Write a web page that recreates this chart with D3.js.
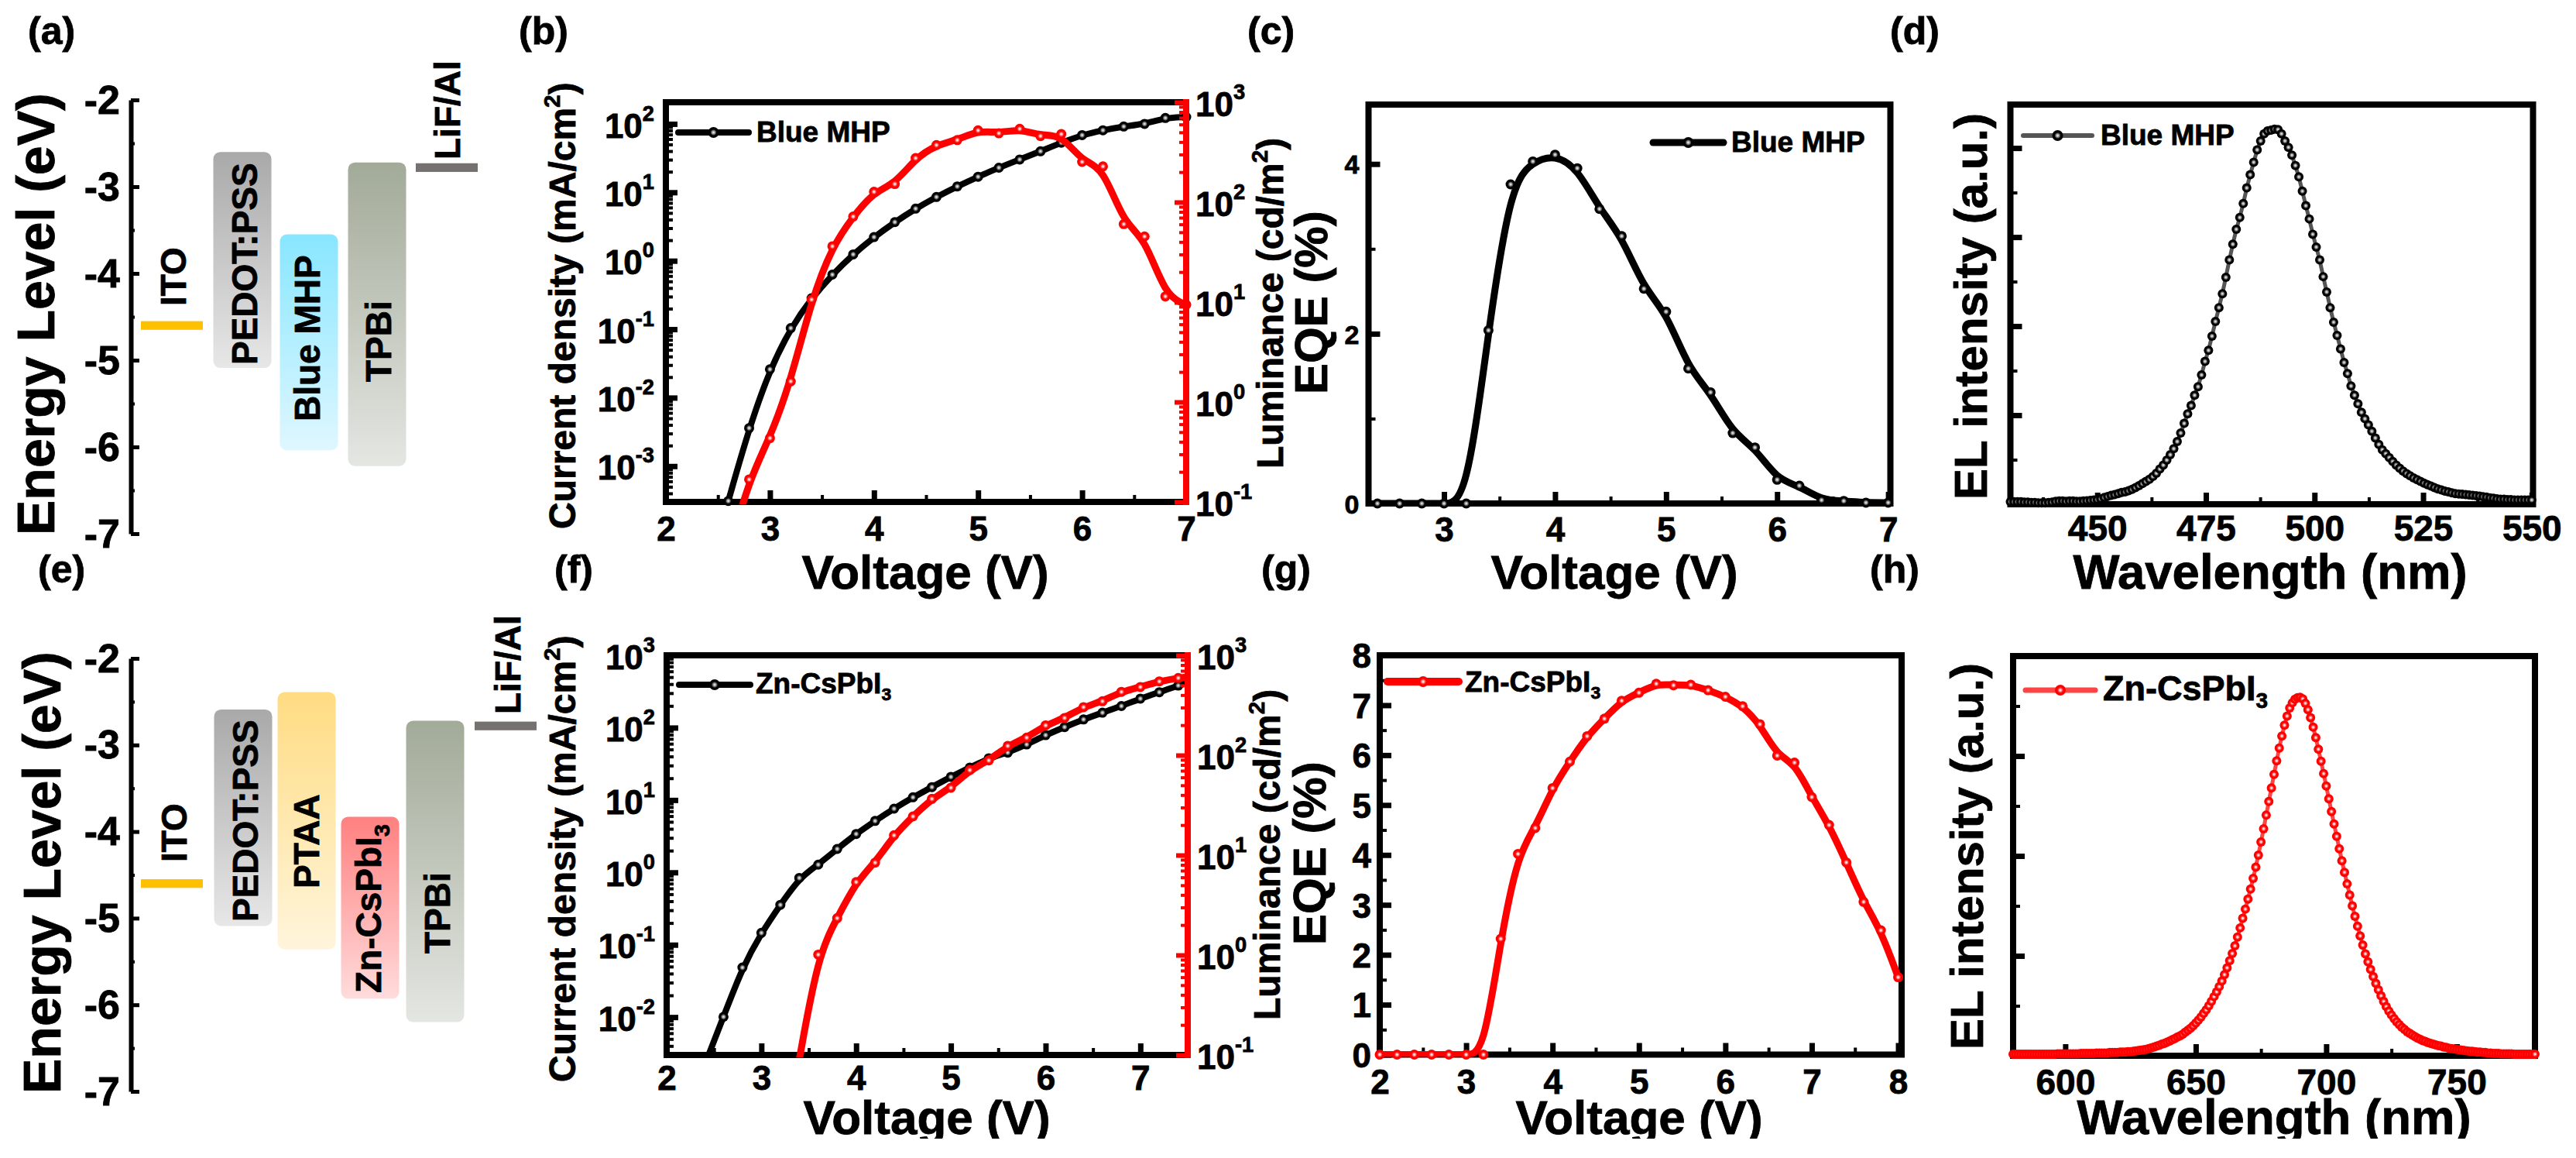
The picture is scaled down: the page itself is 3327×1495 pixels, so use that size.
<!DOCTYPE html>
<html lang="en">
<head>
<meta charset="UTF-8">
<title>LED device characteristics</title>
<script src="https://d3js.org/d3.v7.min.js"></script>
<style>
    body { margin: 0; background: #fff; }
    text { font-family: "Liberation Sans", Arial, sans-serif; font-weight: bold; fill: #000; stroke: #000; stroke-width: 0.8px; }
    .tick text { font-family: "Liberation Sans", Arial, sans-serif; font-weight: bold; }
</style>
</head>
<body>
<div id="chart"></div>
<script>
// energy levels (eV): name, top, bottom
const bandsBlue = [
    ["ITO", -4.55, -4.65], ["PEDOT:PSS", -2.6, -5.09], ["Blue MHP", -3.55, -6.04],
    ["TPBi", -2.72, -6.22], ["LiF/Al", -2.73, -2.83]
];
const bandsRed = [
    ["ITO", -4.55, -4.65], ["PEDOT:PSS", -2.59, -5.09], ["PTAA", -2.39, -5.36],
    ["Zn-CsPbI3", -3.83, -5.93], ["TPBi", -2.72, -6.2], ["LiF/Al", -2.73, -2.83]
];
const energyTicks = [-2, -3, -4, -5, -6, -7];
const energyMinor = [-2.5, -3.5, -4.5, -5.5, -6.5];

// panel b
const voltsB = [2.6, 2.8, 3, 3.2, 3.4, 3.6, 3.8, 4, 4.2, 4.4, 4.6, 4.8, 5, 5.2, 5.4, 5.6, 5.8, 6, 6.2, 6.4, 6.6, 6.8, 7];
const currentB = [3.1e-4, 3.6e-3, 0.026, 0.104, 0.284, 0.628, 1.24, 2.22, 3.67, 5.78, 8.55, 12.2, 16.9, 22.9, 30.2, 39.8, 53.2, 68.5, 80.7, 91.6, 100, 122, 126];
const luminanceB = [0.03, 0.168, 0.435, 1.61, 10.6, 36.2, 71.8, 127, 152, 276, 373, 418, 523, 489, 542, 459, 480, 253, 228, 60.3, 45.4, 11.4, 9.42];

// panel c
const voltsC = [2.4, 2.6, 2.8, 3, 3.2, 3.4, 3.6, 3.8, 4, 4.2, 4.4, 4.6, 4.8, 5, 5.2, 5.4, 5.6, 5.8, 6, 6.2, 6.4, 6.6, 6.8, 7];
const eqeC = [0, 0, 0, 0, 0, 2.04, 3.76, 4.03, 4.11, 3.95, 3.47, 3.15, 2.53, 2.26, 1.59, 1.31, 0.83, 0.66, 0.28, 0.21, 0.04, 0.03, 0.01, 0.01];

// panel d
const wavesD = [430, 430.8, 431.6, 432.4, 433.2, 434, 434.8, 435.6, 436.4, 437.2, 438, 438.8, 439.6, 440.4, 441.2, 442, 442.8, 443.6, 444.4, 445.2, 446, 446.8, 447.6, 448.4, 449.2,
    450, 450.8, 451.6, 452.4, 453.2, 454, 454.8, 455.6, 456.4, 457.2, 458, 458.8, 459.6, 460.4, 461.2, 462, 462.8, 463.6, 464.4, 465.2, 466, 466.8, 467.6, 468.4, 469.2,
    470, 470.8, 471.6, 472.4, 473.2, 474, 474.8, 475.6, 476.4, 477.2, 478, 478.8, 479.6, 480.4, 481.2, 482, 482.8, 483.6, 484.4, 485.2, 486, 486.8, 487.6, 488.4, 489.2,
    490, 490.8, 491.6, 492.4, 493.2, 494, 494.8, 495.6, 496.4, 497.2, 498, 498.8, 499.6, 500.4, 501.2, 502, 502.8, 503.6, 504.4, 505.2, 506, 506.8, 507.6, 508.4, 509.2,
    510, 510.8, 511.6, 512.4, 513.2, 514, 514.8, 515.6, 516.4, 517.2, 518, 518.8, 519.6, 520.4, 521.2, 522, 522.8, 523.6, 524.4, 525.2, 526, 526.8, 527.6, 528.4, 529.2,
    530, 530.8, 531.6, 532.4, 533.2, 534, 534.8, 535.6, 536.4, 537.2, 538, 538.8, 539.6, 540.4, 541.2, 542, 542.8, 543.6, 544.4, 545.2, 546, 546.8, 547.6, 548.4, 549.2, 550];
const elD = [.007, .007, .007, .007, .006, .006, .005, .005, .004, .004, .004, .005, .006, .008, .009, .009, .008, .009, .009, .008, .008, .009, .01, .011, .012,
    .013, .015, .019, .022, .025, .027, .03, .033, .035, .038, .042, .047, .052, .058, .064, .07, .078, .087, .099, .11, .124, .139, .156, .176, .2,
    .227, .254, .277, .306, .33, .363, .401, .432, .472, .513, .552, .591, .637, .686, .73, .772, .805, .844, .888, .925, .96, .995, 1.02, 1.04, 1.048,
    1.05, 1.053, 1.052, 1.04, 1.02, 1.002, .98, .951, .919, .879, .838, .801, .758, .722, .686, .639, .596, .552, .511, .474, .436, .398, .367, .332, .306,
    .282, .258, .24, .223, .205, .186, .168, .153, .142, .131, .12, .11, .101, .093, .086, .08, .074, .069, .064, .059, .055, .051, .047, .043, .04,
    .037, .035, .032, .03, .029, .028, .027, .026, .025, .024, .023, .021, .02, .018, .017, .015, .014, .014, .013, .013, .012, .012, .012, .012, .012, .012];

// panel f
const voltsJF = [2.4, 2.6, 2.8, 3, 3.2, 3.4, 3.6, 3.8, 4, 4.2, 4.4, 4.6, 4.8, 5, 5.2, 5.4, 5.6, 5.8, 6, 6.2, 6.4, 6.6, 6.8, 7, 7.2, 7.4, 7.6];
const currentF = [0.00216, 0.0101, 0.0485, 0.146, 0.356, 0.838, 1.28, 2.11, 3.4, 5.14, 7.6, 10.9, 15.1, 20.9, 28.1, 37.8, 45.2, 58.6, 78.9, 102, 130, 161, 199, 252, 309, 382, 457];
const voltsLF = [3.4, 3.6, 3.8, 4, 4.2, 4.4, 4.6, 4.8, 5, 5.2, 5.4, 5.6, 5.8, 6, 6.2, 6.4, 6.6, 6.8, 7, 7.2, 7.4, 7.6];
const luminanceF = [0.09, 1.01, 2.34, 5.38, 8.41, 15.8, 24.4, 36.6, 47.3, 71, 88.7, 124, 150, 199, 236, 303, 347, 431, 482, 548, 593, 620];

// panel g
const voltsG = [2, 2.2, 2.4, 2.6, 2.8, 3, 3.2, 3.4, 3.6, 3.8, 4, 4.2, 4.4, 4.6, 4.8, 5, 5.2, 5.4, 5.6, 5.8, 6, 6.2, 6.4, 6.6, 6.8, 7, 7.2, 7.4, 7.6, 7.8, 8];
const eqeG = [0, 0, 0, 0, 0, 0, 0, 2.32, 4.02, 4.54, 5.34, 5.87, 6.38, 6.73, 7.09, 7.25, 7.43, 7.4, 7.41, 7.3, 7.17, 6.98, 6.62, 5.99, 5.85, 5.16, 4.6, 3.85, 3.06, 2.49, 1.55];

// panel h
const wavesH = [580, 581, 582, 583, 584, 585, 586, 587, 588, 589, 590, 591, 592, 593, 594, 595, 596, 597, 598, 599,
    600, 601, 602, 603, 604, 605, 606, 607, 608, 609, 610, 611, 612, 613, 614, 615, 616, 617, 618, 619,
    620, 621, 622, 623, 624, 625, 626, 627, 628, 629, 630, 631, 632, 633, 634, 635, 636, 637, 638, 639,
    640, 641, 642, 643, 644, 645, 646, 647, 648, 649, 650, 651, 652, 653, 654, 655, 656, 657, 658, 659,
    660, 661, 662, 663, 664, 665, 666, 667, 668, 669, 670, 671, 672, 673, 674, 675, 676, 677, 678, 679,
    680, 681, 682, 683, 684, 685, 686, 687, 688, 689, 690, 691, 692, 693, 694, 695, 696, 697, 698, 699,
    700, 701, 702, 703, 704, 705, 706, 707, 708, 709, 710, 711, 712, 713, 714, 715, 716, 717, 718, 719,
    720, 721, 722, 723, 724, 725, 726, 727, 728, 729, 730, 731, 732, 733, 734, 735, 736, 737, 738, 739,
    740, 741, 742, 743, 744, 745, 746, 747, 748, 749, 750, 751, 752, 753, 754, 755, 756, 757, 758, 759,
    760, 761, 762, 763, 764, 765, 766, 767, 768, 769, 770, 771, 772, 773, 774, 775, 776, 777, 778, 779, 780];
const elH = [.004, .004, .004, .004, .004, .004, .004, .004, .004, .004, .004, .004, .004, .004, .004, .004, .004, .005, .005, .005,
    .005, .005, .005, .005, .005, .005, .006, .006, .006, .006, .006, .006, .007, .007, .007, .007, .007, .008, .008, .008,
    .008, .009, .009, .009, .01, .01, .011, .012, .013, .014, .015, .016, .018, .02, .022, .024, .026, .029, .031, .034,
    .037, .04, .043, .047, .05, .054, .059, .064, .069, .075, .082, .089, .097, .106, .115, .125, .136, .148, .16, .173,
    .187, .203, .22, .238, .256, .275, .297, .32, .344, .367, .392, .417, .444, .472, .502, .535, .568, .602, .636, .67,
    .704, .738, .77, .8, .827, .85, .87, .883, .892, .896, .897, .893, .882, .866, .846, .822, .796, .767, .737, .706,
    .675, .643, .611, .58, .549, .518, .488, .459, .43, .402, .375, .349, .324, .3, .277, .255, .235, .216, .198, .181,
    .165, .15, .136, .123, .112, .102, .093, .085, .078, .071, .066, .06, .056, .052, .048, .044, .041, .038, .036, .033,
    .031, .029, .027, .025, .024, .022, .021, .019, .018, .017, .016, .015, .014, .013, .012, .011, .011, .01, .009, .009,
    .008, .008, .007, .007, .006, .006, .006, .005, .005, .005, .005, .005, .004, .004, .004, .004, .004, .004, .004, .004, .004];

const svg = d3.select("#chart").append("svg").attr("width", 3327).attr("height", 1495).style("display", "block");
const defs = svg.append("defs");

// balls used as markers
function ball(id, stops) {
    const g = defs.append("radialGradient").attr("id", id).attr("cx", "50%").attr("cy", "50%").attr("r", "50%");
    stops.forEach(s => g.append("stop").attr("offset", s[0]).attr("stop-color", s[1]));
}
ball("ballBlack", [["0%", "#eee"], ["15%", "#ccc"], ["35%", "#777"], ["58%", "#000"]]);
ball("ballRed", [["0%", "#fff"], ["18%", "#ffc8c8"], ["40%", "#ff4040"], ["58%", "#f00"]]);

const bandColors = {
    "PEDOT:PSS": ["#a9a9a9", "#e7e7e7"],
    "Blue MHP": ["#88e6ff", "#dff7ff"],
    "TPBi": ["#a2aa98", "#e4e6e2"],
    "PTAA": ["#ffdc82", "#fff5dc"],
    "Zn-CsPbI3": ["#ff8080", "#ffdcdc"]
};
Object.entries(bandColors).forEach(([k, c], i) => {
    const g = defs.append("linearGradient").attr("id", "band" + i).attr("x1", 0).attr("x2", 0).attr("y1", 0).attr("y2", 1);
    g.append("stop").attr("offset", "0%").attr("stop-color", c[0]);
    g.append("stop").attr("offset", "100%").attr("stop-color", c[1]);
    bandColors[k] = "url(#band" + i + ")";
});

// text made of parts, part = [string, "sup" | "sub" | undefined]
function label(x, y, parts, size, rotated, anchor) {
    const t = svg.append("text").attr("font-size", size).attr("text-anchor", anchor || "start")
        .attr("transform", `translate(${x},${y})` + (rotated ? " rotate(-90)" : ""));
    let shift = 0;
    parts.forEach(p => {
        const target = p[1] === "sup" ? -0.42 * size : p[1] === "sub" ? 0.23 * size : 0;
        t.append("tspan").attr("dy", target - shift).attr("font-size", p[1] ? size * 0.62 : size).text(p[0]);
        shift = target;
    });
    return t;
}

function panelLabels(list) {
    list.forEach(d => label(d[1], d[2], [[d[0]]], 50));
}
panelLabels([
    ["(a)", 36, 57], ["(b)", 670, 57], ["(c)", 1611, 57], ["(d)", 2441, 57],
    ["(e)", 49, 752], ["(f)", 716, 752], ["(g)", 1629, 752], ["(h)", 2415, 752]
]);

// ticks, major ones with text, minor ones without
function ticks(axisFn, scale, at, major, minor, color, width) {
    const g = svg.append("g").attr("transform", at);
    if (minor.length) {
        const m = g.append("g").call(axisFn(scale).tickValues(minor).tickSizeInner(-9).tickSizeOuter(0).tickFormat(""));
        m.select(".domain").remove();
        m.selectAll("line").attr("stroke", color).attr("stroke-width", 4);
    }
    const a = g.append("g").call(axisFn(scale).tickValues(major).tickSizeInner(-15).tickSizeOuter(0));
    a.select(".domain").remove();
    a.selectAll("line").attr("stroke", color).attr("stroke-width", width || 7);
    a.selectAll("text").text("");
    return a;
}

function bottomAxis(x, y0, major, minor, size, offset, labelled) {
    const a = ticks(d3.axisBottom, x, `translate(0,${y0})`, major, minor, "#000");
    a.selectAll("text").attr("y", offset).attr("dy", 0).attr("font-size", size).text(d => labelled.includes(d) ? d : "");
}

function leftAxis(y, x0, major, minor, size, pad, withText) {
    const a = ticks(d3.axisLeft, y, `translate(${x0},0)`, major, minor, "#000");
    if (withText) {
        a.selectAll("text").attr("x", -pad).attr("dy", size * 0.36).attr("font-size", size).text(d => d);
    }
}

// 10^n labels, used on both log axes
function logText(a, size, anchorEnd, pad) {
    a.selectAll("text").attr("x", anchorEnd ? -pad : pad).attr("dy", 0).attr("font-size", size)
        .attr("y", size * 0.39)
        .each(function(d) {
            const t = d3.select(this);
            t.append("tspan").text("10");
            t.append("tspan").attr("dy", -0.5 * size).attr("font-size", size * 0.62).text(Math.round(Math.log10(d)));
        });
}

function frame(x, y) {
    const [l, r] = x.range(), [b, t] = y.range();
    svg.append("rect").attr("x", l).attr("y", t).attr("width", r - l).attr("height", b - t)
        .attr("fill", "none").attr("stroke", "#000").attr("stroke-width", 8);
}

let clipId = 0;
function curve(x, y, xs, ys, color, ballId, lineWidth, r) {
    const [l, r1] = x.range(), [b, t] = y.range();
    const id = "clip" + (clipId++);
    defs.append("clipPath").attr("id", id).append("rect")
        .attr("x", l).attr("y", t).attr("width", r1 - l).attr("height", b - t + 3);
    const pts = xs.map((v, i) => [v, ys[i]]);
    const line = d3.line().x(d => x(d[0])).y(d => y(d[1])).curve(d3.curveBasis);
    svg.append("path").attr("d", line(pts)).attr("fill", "none").attr("stroke", color)
        .attr("stroke-width", lineWidth).attr("stroke-linejoin", "round").attr("clip-path", `url(#${id})`);
    const [d0, d1] = y.domain(), [e0, e1] = x.domain();
    svg.append("g").selectAll("circle")
        .data(pts.filter(p => p[1] >= d0 && p[1] <= d1 && p[0] >= e0 && p[0] <= e1 + 0.01))
        .enter().append("circle")
        .attr("cx", d => x(d[0])).attr("cy", d => y(d[1])).attr("r", r)
        .attr("fill", `url(#${ballId})`);
}

function legend(x0, x1, y, color, ballId, parts, size, width, textX, textY) {
    svg.append("line").attr("x1", x0).attr("x2", x1).attr("y1", y).attr("y2", y)
        .attr("stroke", color).attr("stroke-width", width).attr("stroke-linecap", "round");
    svg.append("circle").attr("cx", (x0 + x1) / 2).attr("cy", y).attr("r", 7).attr("fill", `url(#${ballId})`);
    label(textX, textY, parts, size);
}

// energy diagrams (a, e)
function energy(bands, positions, y0, y1, axisX) {
    const y = d3.scaleLinear().domain([-2, -7]).range([y0, y1]);
    const xPos = d3.scaleOrdinal().domain(bands.map(d => d[0])).range(positions);
    const g = svg.append("g").attr("transform", `translate(${axisX},0)`);
    const minor = g.append("g").call(d3.axisLeft(y).tickValues(energyMinor).tickSizeInner(-5).tickSizeOuter(0).tickFormat(""));
    minor.select(".domain").remove();
    minor.selectAll("line").attr("stroke", "#000").attr("stroke-width", 4);
    const a = g.append("g").call(d3.axisLeft(y).tickValues(energyTicks).tickSizeInner(-11).tickSizeOuter(0).tickPadding(14).tickFormat(d => String(d)));
    a.select(".domain").attr("stroke", "#000").attr("stroke-width", 6);
    a.selectAll("line").attr("stroke", "#000").attr("stroke-width", 5);
    a.selectAll("text").attr("font-size", 52).attr("x", -14).attr("dy", 17);
    bands.forEach(d => {
        const metal = d[0] === "ITO" || d[0] === "LiF/Al";
        const w = metal ? 80 : 75;
        svg.append("rect").attr("x", xPos(d[0]) - w / 2).attr("y", y(d[1]))
            .attr("width", w).attr("height", y(d[2]) - y(d[1])).attr("rx", metal ? 0 : 9)
            .attr("fill", metal ? (d[0] === "ITO" ? "#ffc000" : "#767171") : bandColors[d[0]]);
    });
}

energy(bandsBlue, [222, 313, 399, 487, 577], 129, 689, 169);
label(70, 691, [["Energy Level (eV)"]], 68, true);
label(240, 395, [["ITO"]], 46, true);
label(332, 471, [["PEDOT:PSS"]], 46, true);
label(413, 544, [["Blue MHP"]], 46, true);
label(505, 493, [["TPBi"]], 46, true);
label(594, 206, [["LiF/Al"]], 46, true);

energy(bandsRed, [222, 314, 396, 478, 562, 653], 850, 1409, 169);
label(78, 1412, [["Energy Level (eV)"]], 68, true);
label(241, 1113, [["ITO"]], 46, true);
label(333, 1190, [["PEDOT:PSS"]], 46, true);
label(412, 1147, [["PTAA"]], 46, true);
label(492, 1282, [["Zn-CsPbI"], ["3", "sub"]], 46, true);
label(581, 1231, [["TPBi"]], 46, true);
label(672, 922, [["LiF/Al"]], 46, true);

// J-V-L panels (b, f)
function jvl(xDomain, xRange, jDomain, lRange, major, minor, jMajor, labelled, offset) {
    const x = d3.scaleLinear().domain(xDomain).range(xRange);
    const yJ = d3.scaleLog().domain(jDomain).range(lRange);
    const yL = d3.scaleLog().domain([0.1, 1000]).range(lRange);
    frame(x, yJ);
    bottomAxis(x, lRange[0], major, minor, 44, offset, labelled);
    const minorJ = yJ.ticks().filter(v => !jMajor.includes(v));
    const a = ticks(d3.axisLeft, yJ, `translate(${xRange[0]},0)`, jMajor, minorJ, "#000");
    logText(a, 44, true, 15);
    return { x, yJ, yL };
}

function rightAxis(yL, x0) {
    const major = [0.1, 1, 10, 100, 1000];
    const minor = yL.ticks().filter(v => !major.includes(v));
    svg.append("line").attr("x1", x0).attr("x2", x0).attr("y1", yL.range()[1] - 4).attr("y2", yL.range()[0] + 4)
        .attr("stroke", "#f00").attr("stroke-width", 8);
    const a = ticks(d3.axisRight, yL, `translate(${x0},0)`, major, minor, "#f00", 6);
    logText(a, 44, false, 12);
}

const b = jvl([2, 7], [860, 1532], [3e-4, 207], [648, 132], [2, 3, 4, 5, 6, 7], [2.5, 3.5, 4.5, 5.5, 6.5],
    [1e-3, 1e-2, 1e-1, 1, 10, 100], [2, 3, 4, 5, 6, 7], 50);
curve(b.x, b.yJ, voltsB, currentB, "#000", "ballBlack", 8, 6.5);
curve(b.x, b.yL, voltsB, luminanceB, "#f00", "ballRed", 9, 6.5);
rightAxis(b.yL, 1532);
label(743, 683, [["Current density (mA/cm"], ["2", "sup"], [")"]], 48, true);
label(1657, 605, [["Luminance (cd/m"], ["2", "sup"], [")"]], 48, true);
label(1195, 760, [["Voltage (V)"]], 62, false, "middle");
legend(876, 967, 171, "#000", "ballBlack", [["Blue MHP"]], 37, 8, 977, 183);

const f = jvl([2, 7.5], [861, 1534], [3e-3, 1000], [1362, 846], [2, 3, 4, 5, 6, 7], [2.5, 3.5, 4.5, 5.5, 6.5, 7.5],
    [1e-2, 1e-1, 1, 10, 100, 1000], [2, 3, 4, 5, 6, 7], 45);
curve(f.x, f.yJ, voltsJF, currentF, "#000", "ballBlack", 8, 6.5);
curve(f.x, f.yL, voltsLF, luminanceF, "#f00", "ballRed", 9, 6.5);
rightAxis(f.yL, 1534);
label(743, 1397, [["Current density (mA/cm"], ["2", "sup"], [")"]], 48, true);
label(1653, 1317, [["Luminance (cd/m"], ["2", "sup"], [")"]], 48, true);
label(1197, 1464, [["Voltage (V)"]], 62, false, "middle");
legend(877, 969, 884, "#000", "ballBlack", [["Zn-CsPbI"], ["3", "sub"]], 37, 8, 976, 895);

// EQE (c, g)
const cx = d3.scaleLinear().domain([2.32, 7.02]).range([1767.5, 2441.5]);
const cy = d3.scaleLinear().domain([0, 4.7]).range([650, 135]);
frame(cx, cy);
bottomAxis(cx, 650, [3, 4, 5, 6, 7], [3.5, 4.5, 5.5, 6.5], 44, 49, [3, 4, 5, 6, 7]);
leftAxis(cy, 1767.5, [0, 2, 4], [1, 3], 34, 12, true);
curve(cx, cy, voltsC, eqeC, "#000", "ballBlack", 9, 6.5);
label(1714, 509, [["EQE (%)"]], 60, true);
label(2085, 760, [["Voltage (V)"]], 62, false, "middle");
legend(2135, 2226, 184, "#000", "ballBlack", [["Blue MHP"]], 37, 9, 2236, 196);

const gx = d3.scaleLinear().domain([2, 8.04]).range([1782, 2456]);
const gy = d3.scaleLinear().domain([0, 8]).range([1361.5, 846]);
frame(gx, gy);
bottomAxis(gx, 1361.5, [2, 3, 4, 5, 6, 7, 8], [2.5, 3.5, 4.5, 5.5, 6.5, 7.5], 44, 50, [2, 3, 4, 5, 6, 7, 8]);
leftAxis(gy, 1782, [0, 1, 2, 3, 4, 5, 6, 7, 8], [0.5, 1.5, 2.5, 3.5, 4.5, 5.5, 6.5, 7.5], 44, 11, true);
curve(gx, gy, voltsG, eqeG, "#f00", "ballRed", 9, 6.5);
label(1712, 1220, [["EQE (%)"]], 60, true);
label(2117, 1464, [["Voltage (V)"]], 62, false, "middle");
legend(1792, 1884, 880, "#f00", "ballRed", [["Zn-CsPbI"], ["3", "sub"]], 37, 10, 1892, 893);

// EL spectra (d, h)
const dx = d3.scaleLinear().domain([430, 550.3]).range([2596.5, 3271.5]);
const dy = d3.scaleLinear().domain([0, 1.122]).range([651, 135]);
frame(dx, dy);
bottomAxis(dx, 651, [450, 475, 500, 525, 550], [437.5, 462.5, 487.5, 512.5, 537.5], 46, 47, [450, 475, 500, 525, 550]);
leftAxis(dy, 2596.5, [0.25, 0.5, 0.75, 1], [0.125, 0.375, 0.625, 0.875], 44, 0, false);
curve(dx, dy, wavesD, elD, "#555", "ballBlack", 5, 6);
label(2566, 645, [["EL intensity (a.u.)"]], 60, true);
label(2932, 760, [["Wavelength (nm)"]], 63.5, false, "middle");
legend(2613, 2702, 175, "#555", "ballBlack", [["Blue MHP"]], 37, 6, 2713, 187);

const hx = d3.scaleLinear().domain([580, 780]).range([2600, 3274]);
const hy = d3.scaleLinear().domain([0, 1]).range([1363, 847]);
frame(hx, hy);
bottomAxis(hx, 1363, [600, 650, 700, 750], [625, 675, 725], 46, 50, [600, 650, 700, 750]);
leftAxis(hy, 2600, [0.25, 0.5, 0.75], [0.125, 0.375, 0.625, 0.875], 44, 0, false);
curve(hx, hy, wavesH, elH, "#f44", "ballRed", 5, 6);
label(2561, 1355, [["EL intensity (a.u.)"]], 60, true);
label(2937, 1464, [["Wavelength (nm)"]], 63.5, false, "middle");
legend(2616, 2706, 891, "#f44", "ballRed", [["Zn-CsPbI"], ["3", "sub"]], 45, 7, 2716, 904);

// the bottom row of axis titles is cut off in the figure
svg.append("rect").attr("x", 0).attr("y", 1470).attr("width", 3327).attr("height", 25).attr("fill", "#fff");
</script>
</body>
</html>
